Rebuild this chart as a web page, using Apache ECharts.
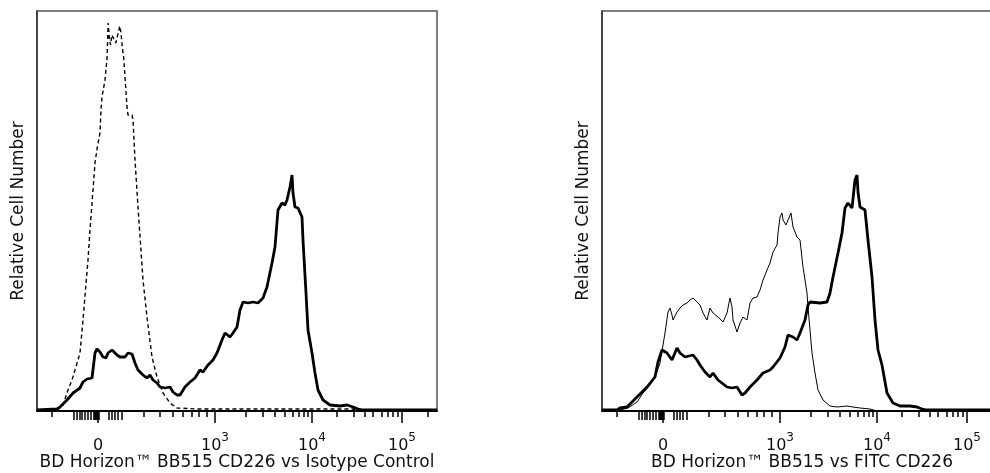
<!DOCTYPE html>
<html><head><meta charset="utf-8">
<script src="https://cdn.jsdelivr.net/npm/echarts@6/dist/echarts.min.js"></script>
<style>html,body{margin:0;padding:0;background:#fff}#c{width:990px;height:473px}</style>
</head><body><div id="c"></div>
<script>
// Display-scale (biexponential channel 0..1000) positions of the axis ticks
const majorTicks = [152.5, 445, 687.5, 912.5];
const majorLabels = ['0', '10^3', '10^4', '10^5'];
const minorTicks = [37.5, 268, 307.5, 340, 365, 387.5, 405, 425, 522.5, 565, 595, 620, 640, 655, 667.5, 677.5,
  750, 792.5, 820, 840, 862.5, 877.5, 890, 902.5, 977.5];
const nearZeroTicks = [93, 99, 106, 112, 120, 128, 135, 141, 145, 148, 150, 155, 180, 187, 195, 201, 212];

const leftTitle = 'BD Horizon™ BB515 CD226 vs Isotype Control';
const rightTitle = 'BD Horizon™ BB515 vs FITC CD226';
const yTitle = 'Relative Cell Number';

// [channel, relative count]
const isotypeControl = [[50,1],[65,6],[77.5,21],[87.5,31],[107.5,58],[115,91],[127.5,151],[132.5,181],[145,248],
  [150,262],[157.5,278],[160,301],[162.5,314],[170,331],[175,352],[178,388],[181,372],[184,366],[187,376],
  [192,372],[197,368],[203,378],[207,385],[210,378],[213,365],[217,352],[220,334],[225,304],[227.5,296],
  [237.5,296],[240,291],[245,251],[252.5,204],[265,131],[275,94],[287.5,54],[300,34],[315,18],[332.5,8],
  [350,3],[400,2],[600,2],[790,2],[800,0]];

const bb515CD226Left = [[0,1],[50,2],[57.5,4],[75,11],[90,18],[107.5,23],[115,29],[125,32],[137.5,33],[145,58],
  [150,62],[157.5,59],[165,54],[172.5,53],[177.5,58],[187.5,61],[190,62],[200,56],[207.5,54],[220,54],
  [227.5,58],[237.5,57],[245,48],[252.5,41],[265,36],[275,33],[282.5,36],[290,31],[300,28],[307.5,24],
  [320,23],[332.5,24],[340,19],[350,16],[357.5,16],[370,24],[382.5,29],[395,33],[407.5,41],[415,39],
  [427.5,46],[440,51],[450,58],[462.5,71],[470,78],[482.5,74],[490,78],[500,84],[507.5,101],[515,109],
  [527.5,108],[540,109],[552.5,108],[565,113],[575,124],[587.5,148],[595,164],[602.5,201],[612.5,208],
  [620,206],[625,211],[632.5,224],[637.5,236],[640,218],[645,204],[652.5,203],[662.5,194],[665,171],
  [672.5,118],[677.5,81],[687.5,58],[695,38],[702.5,21],[715,11],[732.5,6],[757.5,5],[775,6],[790,4],
  [802.5,2],[815,1],[1000,1]];

const bb515CD226Right = [[0,1],[37.5,1],[45,3],[62.5,4],[87.5,14],[112.5,24],[132.5,34],[140,49],[150,61],
  [162.5,58],[175,51],[187.5,63],[195,58],[207.5,54],[227.5,56],[237.5,51],[245,46],[257.5,39],[270,34],
  [277.5,38],[290,31],[312.5,24],[325,23],[337.5,24],[350,16],[357.5,18],[370,24],[387.5,31],[402.5,38],
  [420,41],[427.5,44],[445,53],[457.5,64],[465,76],[477.5,74],[487.5,71],[495,78],[507.5,91],[515,106],
  [520,109],[545,108],[562.5,109],[570,118],[577.5,134],[590,158],[600,178],[607.5,203],[615,208],
  [625,203],[632.5,231],[637.5,236],[640,219],[645,204],[657.5,201],[665,171],[675,134],[682.5,91],
  [690,61],[700,46],[712.5,18],[727.5,8],[745,5],[770,5],[787.5,4],[800,2],[812.5,1],[1000,1]];

const fitcCD226 = [[45,1],[65,3],[87.5,9],[102.5,18],[120,26],[132.5,34],[145,48],[157.5,78],[165,99],
  [170,103],[175,96],[177.5,91],[187.5,99],[195,103],[202.5,106],[212.5,108],[220,111],[227.5,113],
  [237.5,109],[245,106],[252.5,98],[262.5,91],[270,103],[277.5,98],[290,94],[302.5,89],[312.5,98],
  [320,113],[325,104],[327.5,91],[337.5,79],[345,88],[352.5,94],[362.5,91],[370,108],[377.5,113],
  [387.5,114],[395,121],[402.5,131],[412.5,141],[420,148],[427.5,159],[437.5,166],[440,178],[445,194],
  [450,198],[452.5,191],[460,186],[465,191],[472.5,198],[477.5,184],[487.5,174],[495,171],[502.5,144],
  [512.5,118],[515,104],[520,81],[525,58],[532.5,38],[540,21],[552.5,11],[570,5],[587.5,4],[612.5,5],
  [627.5,4],[645,3],[670,2],[687.5,0]];

const FONT = 'DejaVu Sans';
const panels = [
  { left: 37, title: leftTitle, series: [
    { data: isotypeControl, width: 1.4, type: [4, 3] },
    { data: bb515CD226Left, width: 2.8, type: 'solid' } ] },
  { left: 602, title: rightTitle, series: [
    { data: fitcCD226, width: 1, type: 'solid' },
    { data: bb515CD226Right, width: 2.8, type: 'solid' } ] }
];

function fmt(v) {
  let best = 0;
  majorTicks.forEach((t, i) => { if (Math.abs(t - v) < Math.abs(majorTicks[best] - v)) best = i; });
  const s = majorLabels[best];
  if (s.indexOf('^') >= 0) { const p = s.split('^'); return '{b|' + p[0] + '}{s|' + p[1] + '}'; }
  return '{b|' + s + '}';
}

const grid = [], xAxis = [], yAxis = [], series = [];
panels.forEach((p) => {
  const tickSets = [
    { vals: majorTicks, len: 12 },
    { vals: minorTicks, len: 6 },
    { vals: nearZeroTicks, len: 9 }
  ];
  const base = grid.length;
  tickSets.forEach((ts, k) => {
    const gi = grid.length;
    grid.push({ left: p.left, top: 11, width: 400, height: 400, show: k === 0,
      outerBoundsMode: 'none', containLabel: false,
      borderColor: '#555', borderWidth: 1.5, backgroundColor: 'transparent' });
    xAxis.push({
      type: 'value', gridIndex: gi, min: 0, max: 1000, position: 'bottom',
      axisLine: { show: k === 0, lineStyle: { color: '#000', width: 2 } },
      axisTick: { show: true, customValues: ts.vals, length: ts.len, lineStyle: { color: '#000', width: 1.5 } },
      axisLabel: k === 0 ? {
        show: true, customValues: majorTicks, margin: 21, formatter: fmt,
        rich: {
          b: { fontFamily: FONT, fontSize: 16, color: '#111', lineHeight: 22, verticalAlign: 'bottom' },
          s: { fontFamily: FONT, fontSize: 12, color: '#111', lineHeight: 12, verticalAlign: 'top' }
        }
      } : { show: false },
      splitLine: { show: false },
      name: k === 0 ? p.title : '', nameLocation: 'middle', nameGap: 43.5, nameMoveOverlap: false,
      nameTextStyle: { fontFamily: FONT, fontSize: 17, color: '#111' }
    });
    yAxis.push({
      type: 'value', gridIndex: gi, min: 0, max: 400, show: k === 0,
      axisLine: { show: true, lineStyle: { color: '#333', width: 1.5 } },
      axisTick: { show: false }, axisLabel: { show: false }, splitLine: { show: false },
      name: k === 0 ? yTitle : '', nameLocation: 'middle', nameGap: 10, nameMoveOverlap: false,
      nameTextStyle: { fontFamily: FONT, fontSize: 17, color: '#111' }
    });
  });
  p.series.forEach((s) => {
    series.push({
      type: 'line', xAxisIndex: base, yAxisIndex: base, data: s.data, showSymbol: false,
      symbol: 'none', smooth: false, z: 3,
      lineStyle: { color: '#000', width: s.width, type: s.type }
    });
  });
});

const chart = echarts.init(document.getElementById('c'), null, { renderer: 'canvas' });
chart.setOption({ animation: false, backgroundColor: '#fff', grid, xAxis, yAxis, series });
</script>
</body></html>
